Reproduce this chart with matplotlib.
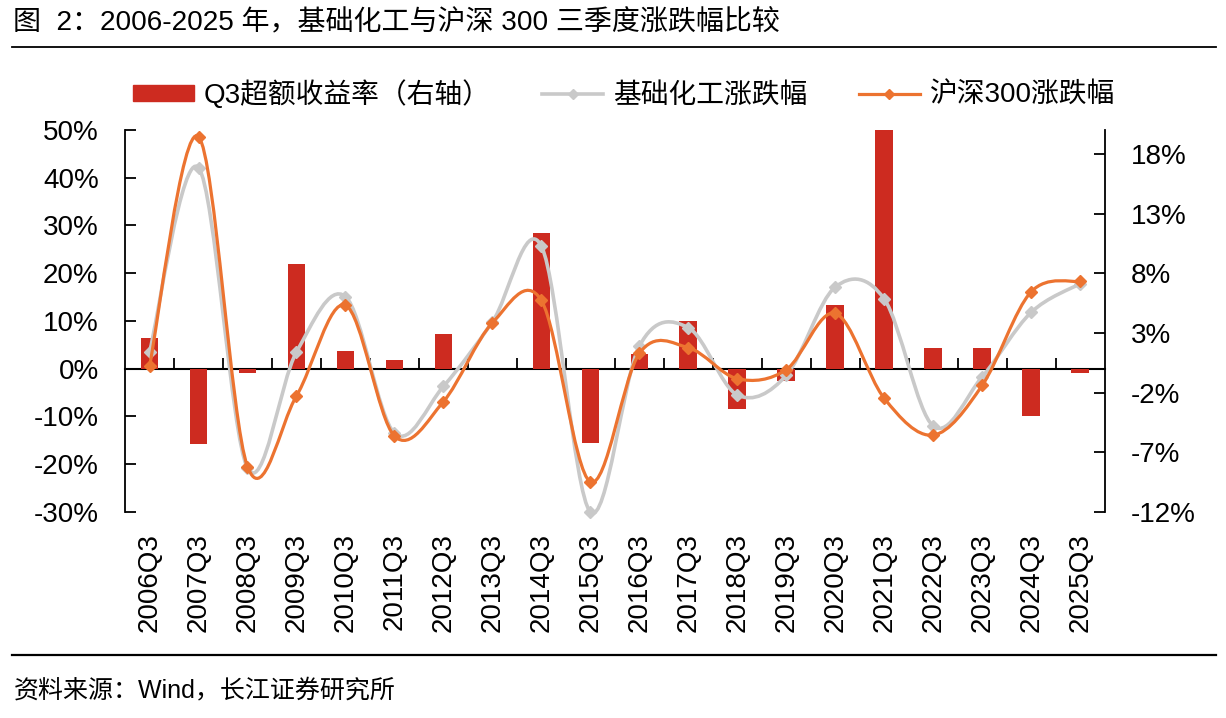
import numpy as np
import matplotlib.pyplot as plt
from matplotlib.path import Path
from matplotlib.patches import PathPatch, Patch
from matplotlib.lines import Line2D
from matplotlib.ticker import FuncFormatter

plt.rcParams['font.family'] = ['Liberation Sans', 'Noto Sans CJK SC', 'DejaVu Sans']
plt.rcParams['axes.unicode_minus'] = False

quarters = [f'{y}Q3' for y in range(2006, 2026)]
# Q3 excess return (right axis), %
excess = [2.6, -6.3, -0.4, 8.8, 1.5, 0.75, 2.9, 0.0, 11.4, -6.2,
          1.2, 4.0, -3.4, -1.0, 5.3, 21.5, 1.7, 1.7, -4.0, -0.4]
# 基础化工涨跌幅, %
chem = [3.5, 42.1, -20.8, 3.5, 15.1, -13.5, -3.7, 9.8, 25.7, -30.0,
        4.7, 8.6, -5.5, -1.4, 17.1, 14.6, -12.0, -1.7, 11.8, 17.8]
# 沪深300涨跌幅, %
hs300 = [0.6, 48.6, -20.5, -5.7, 13.3, -14.1, -6.9, 9.6, 14.3, -23.7,
         3.2, 4.4, -2.1, -0.2, 11.6, -6.2, -13.9, -3.5, 16.1, 18.3]

RED = '#CD2B20'
GRAY = '#C9C9C9'
ORANGE = '#EC7330'
FS = 20


def smooth_path(xs, ys):
    # excel style smoothed line: cubic bezier through every point
    pts = np.column_stack([xs, ys]).astype(float)
    n = len(pts)
    verts = [pts[0]]
    codes = [Path.MOVETO]
    for i in range(n - 1):
        p0 = pts[max(i - 1, 0)]
        p1 = pts[i]
        p2 = pts[i + 1]
        p3 = pts[min(i + 2, n - 1)]
        verts += [p1 + (p2 - p0) / 6, p2 - (p3 - p1) / 6, p2]
        codes += [Path.CURVE4] * 3
    return Path(verts, codes)


fig = plt.figure(figsize=(12.26, 7.18), dpi=100)
ax_bar = fig.add_axes([0.102, 0.287, 0.799, 0.532])
ax_line = ax_bar.twinx()

x = np.arange(len(quarters))

# bars on right axis
ax_bar.bar(x, excess, width=0.36, color=RED, zorder=2)
ax_bar.set_ylim(-12, 20)
ax_bar.set_yticks(np.arange(-12, 19, 5))
ax_bar.yaxis.tick_right()
ax_bar.yaxis.set_major_formatter(FuncFormatter(lambda v, p: f'{v:.0f}%'))
ax_bar.tick_params(axis='y', direction='in', length=8, width=1.3, pad=19,
                   labelsize=FS)
ax_bar.set_xlim(-0.5, len(quarters) - 0.5)
ax_bar.set_xticks(x)
ax_bar.set_xticklabels(quarters, rotation=90, fontsize=FS)
ax_bar.tick_params(axis='x', length=0, pad=15)
for s in ['left', 'top', 'bottom']:
    ax_bar.spines[s].set_visible(False)
ax_bar.spines['right'].set_linewidth(1.3)

# zero line with category separators
zero_frac = (0 - (-12)) / (20 - (-12))
sec = ax_bar.secondary_xaxis(zero_frac)
sec.set_xticks(x[:-1] + 0.5)
sec.set_xticklabels([])
sec.tick_params(direction='in', length=8, width=1.3)
sec.spines['bottom'].set_linewidth(1.5)

# lines on left axis
ax_line.set_ylim(-30, 50)
ax_line.set_yticks(np.arange(-30, 51, 10))
ax_line.yaxis.tick_left()
ax_line.yaxis.set_major_formatter(FuncFormatter(lambda v, p: f'{v:.0f}%'))
ax_line.tick_params(axis='y', direction='in', length=8, width=1.3, pad=19,
                    labelsize=FS)
for s in ['right', 'top', 'bottom']:
    ax_line.spines[s].set_visible(False)
ax_line.spines['left'].set_linewidth(1.3)

ax_line.add_patch(PathPatch(smooth_path(x, chem), fill=False, edgecolor=GRAY,
                            lw=2.6, capstyle='round', zorder=3, clip_on=False))
ax_line.plot(x, chem, ls='none', marker='D', ms=6, color=GRAY, zorder=3,
             clip_on=False)
ax_line.add_patch(PathPatch(smooth_path(x, hs300), fill=False, edgecolor=ORANGE,
                            lw=2.3, capstyle='round', zorder=4, clip_on=False))
ax_line.plot(x, hs300, ls='none', marker='D', ms=6, color=ORANGE, zorder=4,
             clip_on=False)

handles = [Patch(color=RED),
           Line2D([], [], color=GRAY, lw=2.6, marker='D', ms=5),
           Line2D([], [], color=ORANGE, lw=2.3, marker='D', ms=5)]
labels = ['Q3超额收益率（右轴）', '基础化工涨跌幅', '沪深300涨跌幅']
fig.legend(handles, labels, loc='center', bbox_to_anchor=(0.509, 0.868), ncol=3,
           frameon=False, fontsize=FS, handlelength=2.2, handleheight=0.5,
           handletextpad=0.35, columnspacing=1.85)

# title, rules and source
fig.text(0.011, 0.969, '图  2：2006-2025 年，基础化工与沪深 300 三季度涨跌幅比较',
         fontsize=20.2, va='center', ha='left')
fig.add_artist(Line2D([0.0098, 0.992], [0.9345, 0.9345], color='black', lw=1.3,
                      transform=fig.transFigure))
fig.add_artist(Line2D([0.0098, 0.992], [0.0878, 0.0878], color='black', lw=1.6,
                      transform=fig.transFigure))
fig.text(0.011, 0.039, '资料来源：Wind，长江证券研究所', fontsize=18,
         va='center', ha='left')

fig.savefig('out.png', dpi=100)
